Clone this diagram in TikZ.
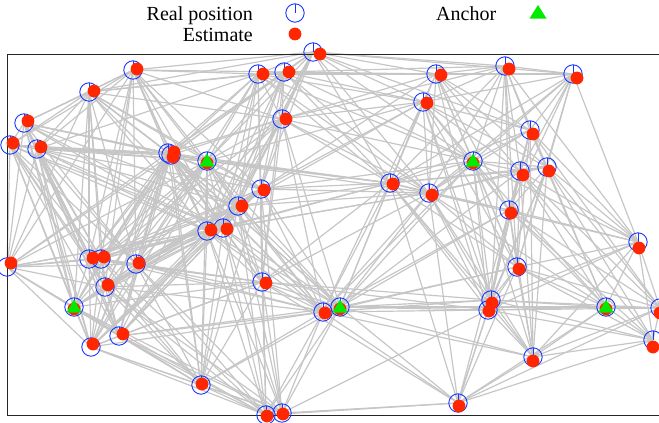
\documentclass[tikz,border=0pt]{standalone}
\usepackage{fontspec}
\setmainfont{Liberation Serif}
\definecolor{realblue}{RGB}{25,55,255}
\definecolor{estred}{RGB}{255,38,0}
\definecolor{anchgreen}{RGB}{0,235,0}
\definecolor{linkgray}{RGB}{198,198,198}
\begin{document}
\begin{tikzpicture}[x=1pt,y=-1pt,
  link/.style={linkgray,line width=1.2pt},
  realpos/.style={realblue,line width=0.9pt},
  estdot/.style={fill=estred},
  anchtri/.style={fill=anchgreen},
  frame/.style={black!85,line width=1.3pt},
  legtext/.style={font=\fontsize{20}{24}\selectfont,inner sep=0pt}]
\useasboundingbox (0,0) rectangle (659,423);
\clip (0,0) rectangle (659,423);
\def\RX{{313,133,89,24,10,37,168,171,207,258,284,282,436,505,573,423,530,473,520,547,390,429,261,238,207,223,262,509,638,517,491,488,7,89,101,136,105,74,91,119,201,266,282,323,340,458,533,606,660,653}}
\def\RY{{52,70,92,123,145,149,153,155,161,74,72,119,74,66,74,102,130,161,171,167,183,193,189,206,231,228,282,210,242,267,300,310,267,259,259,264,287,307,347,336,385,415,413,312,307,403,357,307,308,340}}
\def\EX{{320,137,94,28,13,41,174,173,207,263,289,286,441,509,577,427,533,473,523,549,393,432,264,242,211,227,266,511,639,519,492,489,11,93,104,139,108,74,93,123,202,267,283,325,340,459,533,606,660,653}}
\def\EY{{54,69,91,121,143,147,152,157,163,74,72,119,75,69,78,103,134,163,175,171,184,195,190,206,230,229,283,213,248,269,303,311,263,258,257,263,285,309,344,334,384,416,414,313,309,406,361,309,313,347}}
% positions
\foreach \i in {0,...,49}{
  \pgfmathsetmacro\rx{\RX[\i]}\pgfmathsetmacro\ry{\RY[\i]}
  \pgfmathsetmacro\ex{\EX[\i]}\pgfmathsetmacro\ey{\EY[\i]}
  \coordinate (r\i) at (\rx,\ry);
  \coordinate (e\i) at (\ex,\ey);
}
% links within range
\foreach \i in {0,...,48}{
  \pgfmathtruncatemacro\jstart{\i+1}
  \foreach \j in {\jstart,...,49}{
    \pgfmathsetmacro\dd{veclen(\RX[\i]-\RX[\j],\RY[\i]-\RY[\j])}
    \ifdim\dd pt<235pt \draw[link] (r\i)--(r\j);\fi
  }
}
% a few longer links
\draw[link] (r0) -- (r14);
\draw[link] (r44) -- (r47);
% frame
\draw[frame] (7.5,54.5) rectangle (700,415.5);
% real positions
\foreach \i in {0,...,49}{
  \draw[realpos] (r\i) circle[radius=9.2pt];
  \draw[realpos] (r\i) -- ++(0,-9.2);
}
% estimates
\foreach \i in {0,...,49}{
  \fill[estdot] (e\i) circle[radius=6.4pt];
}
% anchors
\foreach \i in {8,17,37,44,47}{
  \fill[anchtri] (r\i) ++(0,-7.5) -- ++(7.5,13) -- ++(-15,0) -- cycle;
}
% legend
\node[legtext,anchor=base east] (lreal) at (253,20) {Real position};
\node[legtext,anchor=base east] (lest) at (253,41) {Estimate};
\node[legtext,anchor=base west] (lanch) at (436,20) {Anchor};
\coordinate (mreal) at (295,13);
\coordinate (mest) at (295,34);
\coordinate (manch) at (538,12);
\draw[realpos] (mreal) circle[radius=9.2pt];
\draw[realpos] (mreal) -- ++(0,-9.2);
\fill[estdot] (mest) circle[radius=6.4pt];
\fill[anchtri] (manch) ++(0,-7) -- ++(8.5,13.5) -- ++(-17,0) -- cycle;
\end{tikzpicture}
\end{document}
